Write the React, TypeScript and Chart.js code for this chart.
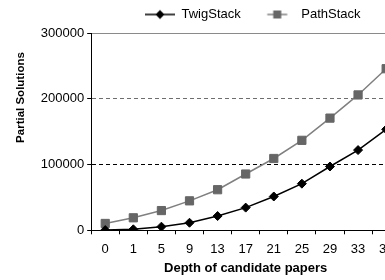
import React, { useEffect, useRef } from 'react';
import { Chart, registerables } from 'chart.js';

Chart.register(...registerables);

const categories = ['0', '1', '5', '9', '13', '17', '21', '25', '29', '33', '37'];
const twigStack = [300, 1500, 5500, 11500, 21700, 34500, 51400, 70900, 97000, 122000, 153500];
const pathStack = [10400, 19000, 30000, 44800, 61700, 85600, 109200, 136800, 170600, 205800, 245700];
const seriesNames = ['TwigStack', 'PathStack'];
const yTickValues = [0, 100000, 200000, 300000];

function makeIcon(kind: string): HTMLCanvasElement {
  const c = document.createElement('canvas');
  c.width = 44;
  c.height = 12;
  const ctx = c.getContext('2d') as CanvasRenderingContext2D;
  if (kind === 'twig') {
    ctx.strokeStyle = '#000';
    ctx.lineWidth = 1.5;
    ctx.beginPath();
    ctx.moveTo(14, 6);
    ctx.lineTo(44, 6);
    ctx.stroke();
    ctx.fillStyle = '#000';
    ctx.beginPath();
    ctx.moveTo(29, 1.5);
    ctx.lineTo(33.5, 6);
    ctx.lineTo(29, 10.5);
    ctx.lineTo(24.5, 6);
    ctx.closePath();
    ctx.fill();
  } else {
    ctx.strokeStyle = '#808080';
    ctx.lineWidth = 1.5;
    ctx.beginPath();
    ctx.moveTo(16.5, 6);
    ctx.lineTo(36.5, 6);
    ctx.stroke();
    ctx.fillStyle = '#666';
    ctx.fillRect(22.5, 2, 8, 8);
  }
  return c;
}

const legendShift = {
  id: 'legendShift',
  afterLayout(chart: any) {
    const lg = chart.legend;
    if (!lg) return;
    const dx = 121 - lg.left;
    lg.left += dx;
    lg.right += dx;
    lg.top -= 2;
    lg.bottom -= 2;
  },
};

export default function App() {
  const ref = useRef<HTMLCanvasElement | null>(null);

  useEffect(() => {
    if (!ref.current) return;
    Chart.defaults.font.family = "'Liberation Sans', Arial, sans-serif";
    Chart.defaults.color = '#000';
    const icons = [makeIcon('twig'), makeIcon('path')];

    const chart = new Chart(ref.current, {
      type: 'line',
      data: {
        labels: categories,
        datasets: [
          {
            label: seriesNames[0],
            data: twigStack,
            borderColor: '#000',
            backgroundColor: '#000',
            borderWidth: 1.5,
            pointStyle: 'rectRot',
            pointRadius: 4.5,
            pointBorderWidth: 1,
            pointBackgroundColor: '#000',
            pointBorderColor: '#000',
            tension: 0,
          },
          {
            label: seriesNames[1],
            data: pathStack,
            borderColor: '#808080',
            backgroundColor: '#666',
            borderWidth: 1.5,
            pointStyle: 'rect',
            pointRadius: 5.8,
            pointBorderWidth: 1,
            pointBackgroundColor: '#666',
            pointBorderColor: '#666',
            tension: 0,
          },
        ],
      },
      options: {
        animation: false,
        responsive: false,
        layout: { padding: { left: 11, right: 3, top: 0, bottom: 4 } },
        plugins: {
          legend: {
            display: true,
            position: 'top',
            align: 'start',
            maxHeight: 33,
            labels: {
              usePointStyle: true,
              pointStyleWidth: 44,
              padding: 10,
              color: '#000',
              font: { size: 13 },
              generateLabels: (ch: any) => {
                const items = Chart.defaults.plugins.legend.labels.generateLabels(ch);
                return items.map((it: any, i: number) => ({ ...it, pointStyle: icons[i] }));
              },
            },
          },
          tooltip: { enabled: false },
        },
        scales: {
          x: {
            type: 'category',
            offset: true,
            grid: {
              display: true,
              drawOnChartArea: false,
              drawTicks: true,
              tickLength: 4,
              offset: true,
              color: '#000',
              tickColor: '#000',
            },
            border: { display: true, color: '#000', width: 1 },
            ticks: {
              padding: 7,
              color: '#000',
              font: { size: 13 },
              autoSkip: false,
              maxRotation: 0,
            },
            title: {
              display: true,
              text: 'Depth of candidate papers',
              color: '#000',
              font: { size: 13, weight: 'bold' },
              padding: { top: -3.5, bottom: 0 },
            },
          },
          y: {
            min: 0,
            max: 300000,
            afterBuildTicks: (scale: any) => {
              scale.ticks = yTickValues.map((v) => ({ value: v }));
            },
            ticks: {
              padding: 3,
              color: '#000',
              font: { size: 13 },
              callback: (v: any) => String(v),
            },
            grid: {
              drawTicks: true,
              tickLength: 4,
              tickColor: '#000',
              lineWidth: 1,
              color: (ctx: any) => {
                const v = ctx.tick ? ctx.tick.value : null;
                if (v === 100000) return '#000';
                if (v === 200000) return '#6e6e6e';
                if (v === 300000) return '#8a8a8a';
                return 'rgba(0,0,0,0)';
              },
            },
            border: {
              display: true,
              color: '#000',
              width: 1,
              dash: (ctx: any) => {
                const v = ctx.tick ? ctx.tick.value : null;
                if (v === 100000 || v === 200000) return [4, 3];
                return [];
              },
            },
            title: {
              display: true,
              text: 'Partial Solutions      ',
              align: 'end',
              color: '#000',
              font: { size: 11.5, weight: 'bold' },
              padding: { top: 3, bottom: 10 },
            },
          },
        },
      },
      plugins: [legendShift],
    } as any);

    return () => chart.destroy();
  }, []);

  return (
    <div
      style={{
        position: 'absolute',
        left: 0,
        top: 0,
        width: 385,
        height: 280,
        overflow: 'hidden',
        background: '#fff',
      }}
    >
      <canvas ref={ref} width={407} height={280} style={{ display: 'block' }} />
    </div>
  );
}
